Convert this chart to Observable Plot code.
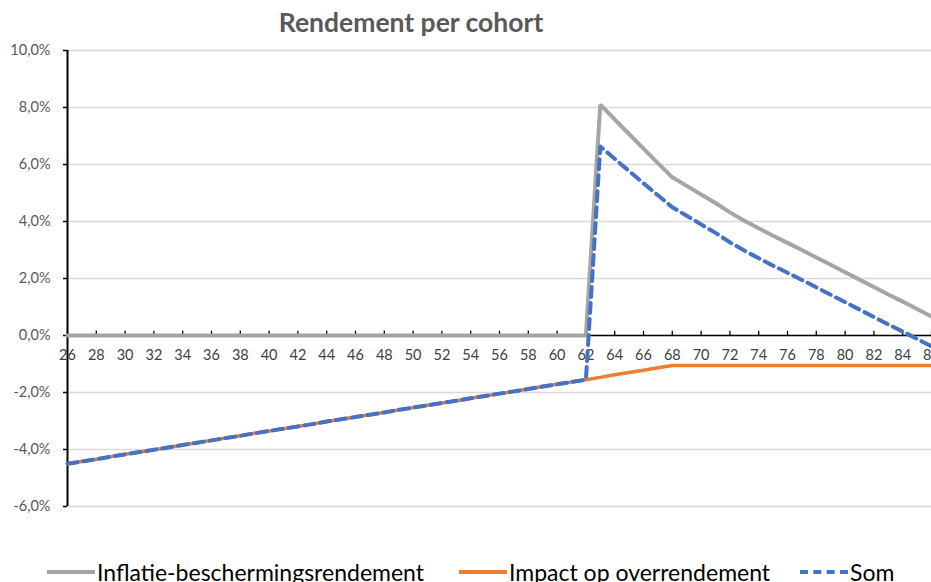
<!DOCTYPE html>
<html>
<head>
<meta charset="utf-8">
<script src="https://cdn.jsdelivr.net/npm/d3@7"></script>
<script src="https://cdn.jsdelivr.net/npm/@observablehq/plot@0.6"></script>
<style>
  html, body { margin: 0; padding: 0; background: #fff; }
  #wrap { position: relative; width: 931px; height: 582px; overflow: hidden; font-family: Lato, "Open Sans", sans-serif; }
  #title { height: 44px; line-height: 44px; text-align: center; width: 822px; font-weight: bold; font-size: 26.5px; color: #595959; }
  #legend { position: absolute; top: 557px; left: 0; width: 931px; height: 30px; }
  .item { position: absolute; top: 0; height: 30px; display: flex; align-items: center; font-size: 23px; color: #000; white-space: nowrap; }
  .sw { width: 48px; height: 0; margin-right: 2px; }
</style>
</head>
<body>
<div id="wrap">
  <div id="title">Rendement per cohort</div>
  <div id="chart"></div>
  <div id="legend"></div>
</div>
<script>
// Cohort ages (categories)
const ages = d3.range(26, 87);

// Inflatie-beschermingsrendement (%)
const inflatie = [
  0,0,0,0,0,0,0,0,0,0,            // 26-35
  0,0,0,0,0,0,0,0,0,0,            // 36-45
  0,0,0,0,0,0,0,0,0,0,            // 46-55
  0,0,0,0,0,0,0,                  // 56-62
  8.10, 7.58, 7.07, 6.56, 6.05, 5.55, // 63-68
  5.25, 4.95, 4.65, 4.32, 4.03, 3.76, 3.50, 3.25, 3.00, // 69-77
  2.74, 2.48, 2.22, 1.96, 1.70, 1.44, 1.19, 0.93, 0.67  // 78-86
];

// Impact op overrendement (%)
const impact = [
  -4.50, -4.42, -4.34, -4.25, -4.17, -4.09, -4.01, -3.93, -3.84, -3.76, // 26-35
  -3.68, -3.60, -3.52, -3.43, -3.35, -3.27, -3.19, -3.11, -3.02, -2.94, // 36-45
  -2.86, -2.78, -2.70, -2.61, -2.53, -2.45, -2.37, -2.29, -2.20, -2.12, // 46-55
  -2.04, -1.96, -1.88, -1.79, -1.71, -1.63, -1.55,                      // 56-62
  -1.47, -1.38, -1.30, -1.22, -1.13, -1.05,                             // 63-68
  -1.05, -1.05, -1.05, -1.05, -1.05, -1.05, -1.05, -1.05, -1.05,        // 69-77
  -1.05, -1.05, -1.05, -1.05, -1.05, -1.05, -1.05, -1.05, -1.05         // 78-86
];

// Som (%)
const som = [
  -4.50, -4.42, -4.34, -4.25, -4.17, -4.09, -4.01, -3.93, -3.84, -3.76,
  -3.68, -3.60, -3.52, -3.43, -3.35, -3.27, -3.19, -3.11, -3.02, -2.94,
  -2.86, -2.78, -2.70, -2.61, -2.53, -2.45, -2.37, -2.29, -2.20, -2.12,
  -2.04, -1.96, -1.88, -1.79, -1.71, -1.63, -1.55,
  6.63, 6.20, 5.77, 5.34, 4.92, 4.50,
  4.20, 3.90, 3.60, 3.27, 2.98, 2.71, 2.45, 2.20, 1.95,
  1.69, 1.43, 1.17, 0.91, 0.65, 0.39, 0.14, -0.12, -0.38
];

const seriesNames = ["Inflatie-beschermingsrendement", "Impact op overrendement", "Som"];
const seriesColors = ["#A5A5A5", "#ED7D31", "#4472C4"];

const xTicks = d3.range(26, 87, 2);
const yTicks = [-6, -4, -2, 0, 2, 4, 6, 8, 10];

const rows = (vals, name) => ages.map((a, i) => ({age: a, value: vals[i], series: name}));
const dInfl = rows(inflatie, seriesNames[0]);
const dImp = rows(impact, seriesNames[1]);
const dSom = rows(som, seriesNames[2]);

const fmtPct = d => d.toFixed(1).replace(".", ",") + "%";

const chart = Plot.plot({
  width: 931,
  height: 480,
  marginTop: 6,
  marginBottom: 18,
  marginLeft: 67,
  marginRight: 0,
  style: { fontFamily: "Lato, 'Open Sans', sans-serif", background: "#fff", overflow: "visible" },
  x: { domain: [26, 86], axis: null },
  y: { domain: [-6, 10], axis: null },
  marks: [
    Plot.gridY(yTicks, { stroke: "#d9d9d9", strokeOpacity: 1, strokeWidth: 1.3 }),
    Plot.axisY(yTicks, { tickFormat: fmtPct, tickSize: 4, tickPadding: 13, fontSize: 14.5, stroke: "#000", fill: "#595959", strokeWidth: 1.5, label: null }),
    Plot.ruleX([26], { stroke: "#000", strokeWidth: 2 }),
    Plot.ruleY([0], { stroke: "#000", strokeWidth: 1.5 }),
    Plot.ruleX(xTicks, { x: d => d, y1: 0, y2: 0.15, stroke: "#000", strokeWidth: 1.3 }),
    Plot.text(xTicks, { x: d => d, y: 0, text: d => String(d), dy: 20, fontSize: 14.5, fill: "#404040" }),
    Plot.line(dInfl, { x: "age", y: "value", stroke: seriesColors[0], strokeWidth: 4, strokeLinejoin: "miter" }),
    Plot.line(dImp, { x: "age", y: "value", stroke: seriesColors[1], strokeWidth: 3.5 }),
    Plot.line(dSom, { x: "age", y: "value", stroke: seriesColors[2], strokeWidth: 4, strokeDasharray: "10 6" })
  ]
});
document.getElementById("chart").appendChild(chart);

// Legend
const legendPos = [47, 459, 800];
const legend = document.getElementById("legend");
seriesNames.forEach((name, i) => {
  const item = document.createElement("div");
  item.className = "item";
  item.style.left = legendPos[i] + "px";
  const sw = document.createElement("div");
  sw.className = "sw";
  sw.style.borderTop = i === 2 ? `4px dashed ${seriesColors[i]}` : `4px solid ${seriesColors[i]}`;
  item.appendChild(sw);
  const t = document.createElement("span");
  t.textContent = name;
  item.appendChild(t);
  legend.appendChild(item);
});
</script>
</body>
</html>
